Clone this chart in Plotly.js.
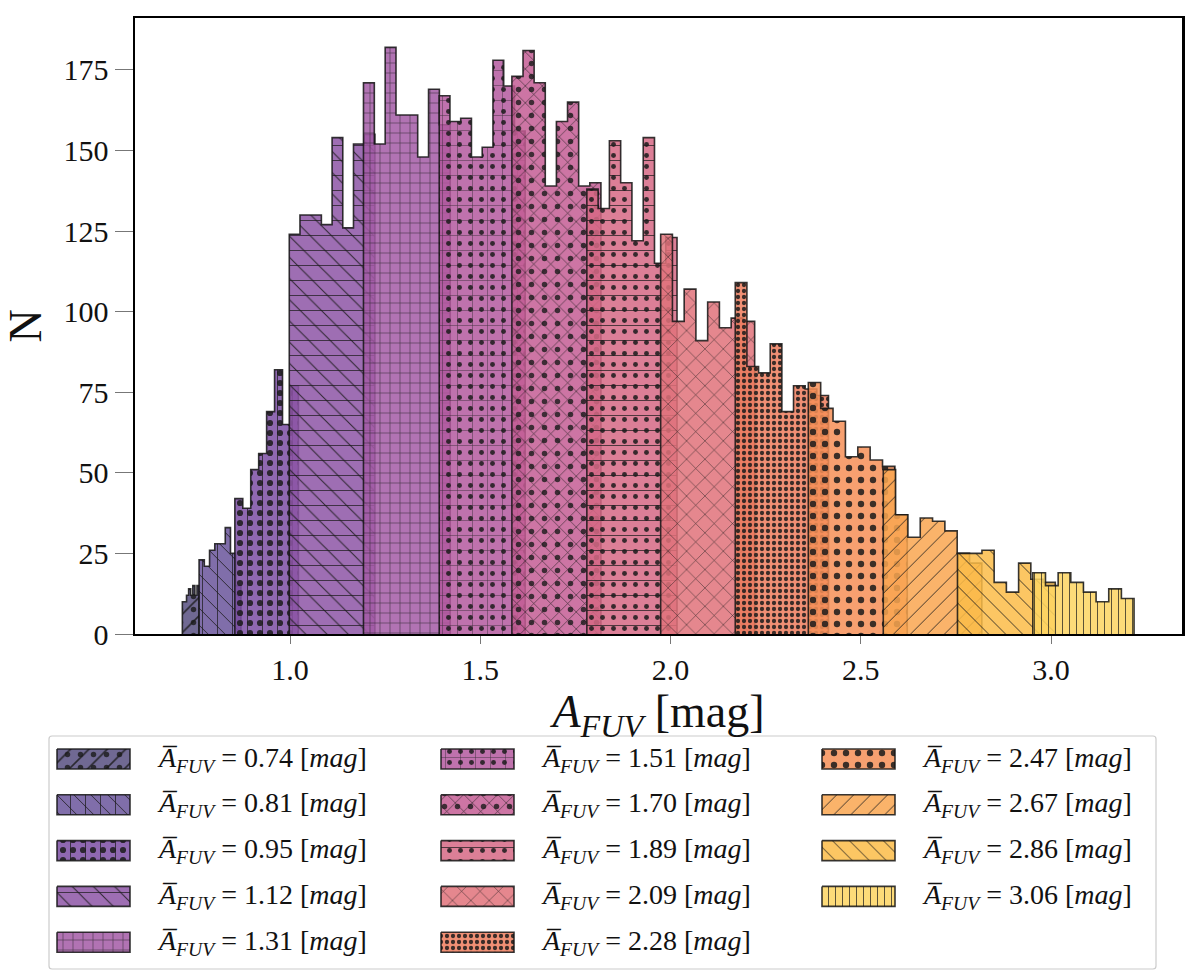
<!DOCTYPE html>
<html>
<head>
<meta charset="utf-8">
<script src="https://cdn.plot.ly/plotly-3.0.1.min.js"></script>
<style>
  body { margin: 0; background: #fff; }
  #chart { width: 1200px; height: 974px; }
</style>
</head>
<body>
<div id="chart"></div>
<script>
"use strict";

// mean A_FUV of every sub-sample (legend labels)
const groupMeans = [0.74, 0.81, 0.95, 1.12, 1.31, 1.51, 1.70, 1.89, 2.09, 2.28, 2.47, 2.67, 2.86, 3.06];

// first and last bin edge of each sub-sample histogram [mag]
const groupStart = [0.717, 0.761, 0.855, 0.998, 1.193, 1.392, 1.583, 1.780, 1.974, 2.170, 2.362, 2.559, 2.754, 2.952];
const groupEnd   = [0.761, 0.871, 1.022, 1.223, 1.421, 1.618, 1.817, 2.017, 2.221, 2.415, 2.622, 2.818, 3.011, 3.218];

// counts per bin
const counts074 = [10, 10, 12, 14, 12, 15, 12, 15];
const counts081 = [23, 21, 26, 28, 28, 33, 25, 15];
const counts095 = [42, 39, 51, 56, 69, 82, 65, 77];
const counts112 = [124, 130, 130, 127, 154, 126, 152, 155];
const counts131 = [171, 152, 182, 161, 161, 148, 169, 158];
const counts151 = [167, 159, 160, 148, 151, 178, 170, 156];
const counts170 = [173, 181, 171, 139, 159, 165, 139, 140];
const counts189 = [138, 132, 153, 140, 122, 154, 115, 123];
const counts209 = [124, 97, 107, 91, 103, 95, 98, 97];
const counts228 = [109, 83, 81, 90, 69, 77, 76, 74];
const counts247 = [78, 70, 66, 55, 58, 54, 52, 37];
const counts267 = [51, 37, 30, 36, 35, 32, 25, 22];
const counts286 = [25, 25, 26, 16, 13, 22, 17, 16];
const counts306 = [19, 15, 19, 16, 13, 10, 14, 11];

const groupCounts = [counts074, counts081, counts095, counts112, counts131, counts151, counts170,
                     counts189, counts209, counts228, counts247, counts267, counts286, counts306];

// styling
const groupColors = ['#574f80', '#6a559b', '#7b4ea4', '#8d55a6', '#a35aa6', '#b4599f', '#c45d94',
                     '#d66985', '#e1727a', '#ee7c5c', '#f68f57', '#f9a650', '#fcbc48', '#fdd562'];
const mainHatch   = ['/', '\\', '.', '\\', '+', '.', 'x', '.', 'x', '.', '.', '/', '\\', '|'];
const extraHatch  = ['.', '|', '|', '-', '', '+', '.', '-', '', '', '', '', '', ''];
const hatchSize   = [13, 12, 10, 15, 10, 11, 12, 11, 13, 6, 12, 12, 12, 7];
const hatchSolid  = [0.12, 0.08, 0.3, 0.07, 0.1, 0.16, 0.1, 0.16, 0.08, 0.4, 0.22, 0.08, 0.08, 0.12];
const fontFamily = '"Liberation Serif", "DejaVu Serif", serif';

function hexToRgba(hex, alpha) {
    const r = parseInt(hex.slice(1, 3), 16);
    const g = parseInt(hex.slice(3, 5), 16);
    const b = parseInt(hex.slice(5, 7), 16);
    return `rgba(${r},${g},${b},${alpha})`;
}

// step outline of a histogram: closed path along the bin edges
function stepPath(start, end, counts) {
    const n = counts.length;
    const w = (end - start) / n;
    const x = [start];
    const y = [0];
    for (let i = 0; i < n; i++) {
        x.push(start + i * w);
        y.push(counts[i]);
    }
    x.push(end, end);
    y.push(counts[n - 1], 0);
    return { x: x, y: y };
}

function filledTrace(x, y, i, xa, ya, shape) {
    return {
        x: x, y: y, xaxis: xa, yaxis: ya,
        type: 'scatter', mode: 'lines',
        line: { shape: shape, color: 'rgba(20,20,20,0.85)', width: 1.6 },
        fill: 'toself',
        fillcolor: hexToRgba(groupColors[i], 0.85),
        fillpattern: {
            shape: mainHatch[i],
            bgcolor: hexToRgba(groupColors[i], 0.85),
            fgcolor: '#1a1a1a',
            fgopacity: 0.85,
            size: hatchSize[i],
            solidity: hatchSolid[i]
        },
        showlegend: false,
        hoverinfo: 'skip'
    };
}

function overlayTrace(x, y, i, xa, ya, shape) {
    const dots = extraHatch[i] === '.';
    return {
        x: x, y: y, xaxis: xa, yaxis: ya,
        type: 'scatter', mode: 'lines',
        line: { shape: shape, color: 'rgba(0,0,0,0)', width: 0 },
        fill: 'toself',
        fillcolor: 'rgba(0,0,0,0)',
        fillpattern: {
            shape: extraHatch[i],
            bgcolor: 'rgba(0,0,0,0)',
            fgcolor: '#1a1a1a',
            fgopacity: 0.8,
            size: dots ? 13 : 15,
            solidity: dots ? 0.14 : 0.06
        },
        showlegend: false,
        hoverinfo: 'skip'
    };
}

const traces = [];
const annotations = [];

// histograms
for (let i = 0; i < groupMeans.length; i++) {
    const path = stepPath(groupStart[i], groupEnd[i], groupCounts[i]);
    traces.push(filledTrace(path.x, path.y, i, 'x', 'y', 'hv'));
    if (extraHatch[i] !== '') {
        traces.push(overlayTrace(path.x, path.y, i, 'x', 'y', 'hv'));
    }
}

// legend drawn in its own pixel-like axes below the plot, column by column
const legendColX = [9, 393, 774];
const legendRowY = 24;
const legendRowStep = 45.8;
const swatchW = 73;
const swatchH = 20;
for (let i = 0; i < groupMeans.length; i++) {
    const col = Math.floor(i / 5);
    const row = i % 5;
    const x0 = legendColX[col];
    const yc = legendRowY + row * legendRowStep;
    const sx = [x0, x0 + swatchW, x0 + swatchW, x0, x0];
    const sy = [yc - swatchH / 2, yc - swatchH / 2, yc + swatchH / 2, yc + swatchH / 2, yc - swatchH / 2];
    traces.push(filledTrace(sx, sy, i, 'x2', 'y2', 'linear'));
    if (extraHatch[i] !== '') {
        traces.push(overlayTrace(sx, sy, i, 'x2', 'y2', 'linear'));
    }
    annotations.push({
        xref: 'x2', yref: 'y2',
        x: x0 + swatchW + 25, y: yc,
        xanchor: 'left', yanchor: 'middle',
        showarrow: false,
        text: '<i>A\u0305</i><sub><i>FUV</i></sub> = ' + groupMeans[i].toFixed(2) + ' [<i>mag</i>]',
        font: { size: 28, family: fontFamily, color: '#111' }
    });
}

const layout = {
    width: 1200,
    height: 974,
    margin: { l: 40, r: 15, t: 18, b: 0 },
    paper_bgcolor: '#fff',
    plot_bgcolor: 'rgba(0,0,0,0)',
    font: { family: fontFamily, color: '#111', size: 26 },
    showlegend: false,
    annotations: annotations,
    shapes: [{
        type: 'path', xref: 'x2', yref: 'y2',
        path: 'M 4 1 L 1105 1 Q 1108 1 1108 4 L 1108 231 Q 1108 234 1105 234 L 4 234 Q 1 234 1 231 L 1 4 Q 1 1 4 1 Z',
        line: { color: '#cccccc', width: 1.2 },
        fillcolor: 'rgba(0,0,0,0)',
        layer: 'below'
    }],
    xaxis: {
        domain: [0.08297, 0.99738],
        anchor: 'y',
        range: [0.5926, 3.344],
        tickvals: [1.0, 1.5, 2.0, 2.5, 3.0],
        ticktext: ['1.0', '1.5', '2.0', '2.5', '3.0'],
        ticks: 'outside',
        ticklen: 8,
        tickwidth: 1,
        tickcolor: '#777',
        tickfont: { size: 30 },
        showgrid: false,
        zeroline: false,
        showline: true,
        mirror: true,
        linecolor: '#000',
        linewidth: 2.5,
        title: { text: '<i>A</i><sub><i>FUV</i></sub> [mag]', font: { size: 46 }, standoff: 0 }
    },
    yaxis: {
        domain: [0.35565, 1.0],
        anchor: 'x',
        range: [0, 191.1],
        tickvals: [0, 25, 50, 75, 100, 125, 150, 175],
        ticks: 'outside',
        ticklen: 18,
        tickwidth: 1,
        tickcolor: '#777',
        tickfont: { size: 30 },
        showgrid: false,
        zeroline: false,
        showline: true,
        mirror: true,
        linecolor: '#000',
        linewidth: 2.5,
        title: { text: 'N', font: { size: 46 }, standoff: 8 }
    },
    xaxis2: {
        domain: [0.006987, 0.97555],
        anchor: 'y2',
        range: [0, 1109],
        visible: false,
        fixedrange: true
    },
    yaxis2: {
        domain: [0.004184, 0.25],
        anchor: 'x2',
        range: [235, 0],
        visible: false,
        fixedrange: true
    }
};

Plotly.newPlot('chart', traces, layout, { displayModeBar: false, staticPlot: true });
</script>
</body>
</html>
